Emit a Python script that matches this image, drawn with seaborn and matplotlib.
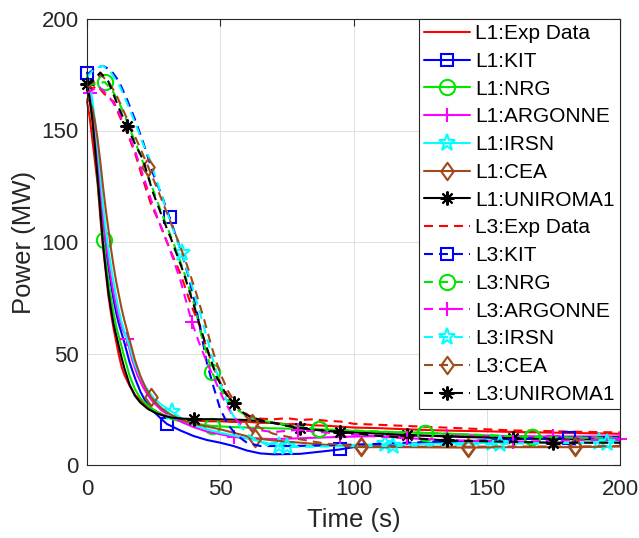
import numpy as np
import matplotlib
matplotlib.use("Agg")
import matplotlib.pyplot as plt
from matplotlib.lines import Line2D
from matplotlib.path import Path
import seaborn as sns

# ---------------- data ----------------
L1_EXP_T = [0, 1, 2, 3, 4, 5, 6, 7, 8, 9, 10, 11, 12, 13, 14, 16, 18, 20, 23, 26, 29, 32, 36, 40, 45, 50, 55, 60, 65, 70, 75, 80, 85, 90, 95, 100, 110, 120, 130, 140, 150, 160, 170, 180, 190, 200]
L1_EXP_P = [163, 156, 146, 136, 126, 111, 98, 87, 76, 68, 61, 55, 49, 44, 40.5, 35.5, 31.5, 29, 26, 24, 22.3, 21.2, 20.5, 20, 19.6, 19.6, 19.3, 19.4, 18.9, 18.9, 18.3, 18.4, 17.8, 17.6, 17.2, 16.8, 16.5, 16.0, 15.6, 15.3, 15.1, 14.8, 14.6, 14.4, 14.2, 14.0]

L1_KIT_T = [0, 1, 2, 3, 4, 5, 6, 7, 8, 9, 10, 11, 12, 13, 14, 16, 18, 20, 22, 25, 28, 30, 35, 40, 45, 50, 55, 60, 65, 70, 80, 90, 95, 100, 110, 120, 140, 160, 181, 200]
L1_KIT_P = [176, 170, 160, 149, 136, 122, 109, 98, 89, 81, 74, 68, 63, 59, 55, 46, 39, 33, 28.5, 24, 20.5, 18.4, 15.5, 13, 11.2, 10, 8.5, 6.5, 5.2, 4.8, 5, 6.3, 7, 8, 8.6, 9.5, 10.5, 11.5, 12.4, 12.6]
L1_KIT_M = [0, 30, 95]

L1_NRG_T = [0, 1, 2, 3, 4, 5, 6.2, 7, 8, 9, 10, 11, 12, 13, 14, 16, 18, 20, 23, 26, 29, 32, 36, 40, 47, 55, 65, 75, 87, 100, 110, 127, 140, 150, 167, 180, 200]
L1_NRG_P = [170, 164, 155, 142, 128, 115, 101, 92, 83, 75, 68, 62, 57.5, 53, 48.5, 40, 34, 30, 26.5, 24, 22, 20.5, 19.3, 18.6, 17.5, 17, 16.6, 16.3, 16, 15.3, 14.9, 14.4, 13.8, 13.3, 12.6, 12.4, 12.2]
L1_NRG_M = [6.2, 47, 87, 127, 167]

L1_ARG_T = [0, 1.1, 2, 3, 4, 5, 6, 7, 8, 9, 10, 11, 12, 13, 15, 17, 19, 21, 23, 25, 28, 32, 36, 40, 45, 50, 55, 60, 70, 80, 95, 110, 135, 150, 175, 200]
L1_ARG_P = [168, 167, 160, 150, 138, 124, 111, 101, 92, 84, 77, 71, 66, 62, 56.5, 47, 40, 35, 31, 28, 24.5, 21.5, 19, 17, 15, 13.8, 12.6, 12, 11.6, 12, 12.6, 13, 13.1, 13, 12.8, 12.8]
L1_ARG_M = [1.1, 15, 55, 95, 135, 175]

L1_IRSN_T = [0, 1, 2, 3, 4, 5, 6, 7, 8, 9, 10, 11, 12, 13, 14, 16, 18, 20, 22, 25, 28, 32, 36, 40, 45, 50, 60, 72, 80, 90, 100, 112, 130, 152, 170, 192, 200]
L1_IRSN_P = [175, 171, 164, 154, 142, 130, 117, 106, 97, 89, 82, 75, 69, 64, 60, 53, 45, 39.5, 35, 30, 27, 23.8, 20.5, 18, 16, 14.5, 12, 8.5, 8.4, 8.6, 9, 9.3, 9.6, 10, 10, 10.1, 10.1]
L1_IRSN_M = [32, 72, 112, 152, 192]

L1_CEA_T = [0, 1, 2, 3, 4, 5, 6, 7, 8, 9, 10, 11, 12, 13, 14, 16, 18, 20, 22, 24, 27, 30, 35, 40, 50, 63, 70, 80, 90, 103, 120, 143, 160, 183, 200]
L1_CEA_P = [164, 163, 160, 154, 146, 136, 125, 115, 106, 97, 89, 82, 76, 70, 65, 56, 47, 40, 34.5, 30.5, 26.5, 23.5, 20.5, 18.5, 16, 12, 11, 10, 9, 8, 8, 7.8, 8, 8, 8.3]
L1_CEA_M = [24, 63, 103, 143, 183]

L1_UNI_T = [0, 1, 2, 3, 4, 5, 6, 7, 8, 9, 10, 11, 12, 13, 14, 16, 18, 20, 23, 26, 29, 32, 36, 40, 50, 60, 70, 80, 90, 100, 120, 140, 160, 180, 200]
L1_UNI_P = [171, 164, 155, 142, 128, 114, 99, 88, 78, 70, 63, 58, 53, 48, 43.5, 36, 31, 28, 25, 23.2, 22, 21.2, 20.8, 20.6, 20.5, 20.2, 19, 16.5, 15.3, 14.6, 13.5, 12.6, 12, 11.6, 11.4]
L1_UNI_M = [0, 40, 80, 120, 160]

L3_EXP_T = [0, 2, 4, 6, 8.6, 10, 12, 15, 18, 21, 24, 27.4, 31, 35, 39, 42.4, 45, 47.4, 50, 52.4, 55, 57.4, 61, 65, 70, 75, 80, 85, 90, 95, 100, 110, 120, 130, 140, 150, 160, 170, 180, 190, 200]
L3_EXP_P = [170, 169, 170, 167, 164, 163, 157, 149, 140, 128, 117, 108, 97, 86, 72, 62, 52, 44, 37, 32, 27.5, 24.7, 22, 20.8, 20.5, 21, 20.2, 20.5, 19.8, 19.5, 18.5, 18, 17.5, 17, 16.5, 16, 15.5, 15.3, 15, 14.8, 14.6]

L3_KIT_T = [0, 3, 6, 9, 12, 15, 18, 21, 25, 28, 31, 35, 38, 41, 43, 45, 47.5, 50, 53, 56, 60, 65, 75, 85, 95, 110, 130, 150, 165, 181, 200]
L3_KIT_P = [175, 178, 179, 177, 172, 164, 155, 145, 130, 121, 111, 97, 85, 70, 58, 45.6, 35, 25, 18, 13.5, 10, 8.5, 8.5, 8.7, 9, 9.5, 10.5, 11, 11.8, 12.3, 12.5]
L3_KIT_M = [31, 181]

L3_NRG_T = [0, 3, 6.7, 10, 13, 16, 20, 24, 28, 32, 36, 40, 43, 46.8, 50, 53, 56, 60, 65, 70, 78, 87, 100, 110, 127, 145, 167, 185, 200]
L3_NRG_P = [170, 171, 171.7, 167, 160, 151, 139, 126, 113, 101, 88, 73, 58, 41.8, 34, 29, 25, 22, 20, 19, 17.5, 16, 15.5, 15, 14.4, 13.6, 12.6, 12.2, 12]
L3_NRG_M = [6.7, 46.8, 87, 127, 167]

L3_ARG_T = [0, 2, 4, 6, 9, 12, 15, 18, 21, 24, 27, 31, 35, 39.3, 42, 45, 48, 51, 54, 57, 62, 70, 79, 90, 100, 110, 120, 140, 160, 180, 200]
L3_ARG_P = [167, 168, 170, 168, 164, 158, 150, 141, 130, 119, 109, 97, 83, 64.3, 55, 46, 38, 30, 23.5, 18.8, 16, 14.8, 15.7, 14.5, 13.6, 12.7, 12, 11, 10.4, 11, 11.5]
L3_ARG_M = [39.3, 79, 120, 160, 200]

L3_IRSN_T = [0, 3, 6, 9, 12.4, 15.5, 18.6, 21, 23.6, 27.4, 31, 35.5, 39, 42, 45, 48, 51, 54, 57, 61, 67.4, 75, 90, 100, 115, 135, 155, 175, 195, 200]
L3_IRSN_P = [174, 178, 179, 176, 169.6, 161, 151.7, 144, 137, 123, 110, 95, 82, 70, 57, 44, 33, 24, 18, 13, 9, 8, 8.3, 8.5, 8.5, 9, 9.5, 9.8, 10, 10]
L3_IRSN_M = [35.5, 75, 115, 155, 195]

L3_CEA_T = [0, 3, 5, 8, 11, 14, 17, 20, 23, 26, 29, 32, 35, 38, 41, 44, 47, 50, 53, 56, 59, 62, 66, 70, 80, 90, 103, 120, 143, 160, 183, 200]
L3_CEA_P = [170, 172, 175, 172, 166, 158, 150, 142, 133.6, 125, 116, 107, 98, 88, 77, 65, 52, 41, 33, 27, 22.5, 18.8, 16, 14, 11.5, 9.5, 8.5, 8.2, 8.2, 8.3, 8.3, 8.5]
L3_CEA_M = [23, 62, 103, 143, 183]

L3_UNI_T = [0, 2, 5, 8, 12, 15, 18, 21, 24.8, 28, 32, 36, 40, 44, 48.6, 52, 55, 58, 61, 67.4, 75, 85, 95, 110, 125, 135, 155, 175, 200]
L3_UNI_P = [170, 172, 176, 172, 160, 152, 144, 137, 122, 112, 100, 87, 72, 56, 39.6, 32, 27.7, 24, 21.7, 19.4, 17.5, 15.8, 14.8, 13, 11.8, 11, 10.5, 10, 10]
L3_UNI_M = [15, 55, 95, 135, 175]

LABELS = ["L1:Exp Data", "L1:KIT", "L1:NRG", "L1:ARGONNE", "L1:IRSN", "L1:CEA", "L1:UNIROMA1",
          "L3:Exp Data", "L3:KIT", "L3:NRG", "L3:ARGONNE", "L3:IRSN", "L3:CEA", "L3:UNIROMA1"]

# ---------------- styling ----------------
sns.set_style("white")
plt.rcParams["font.family"] = ["Liberation Sans", "DejaVu Sans"]

BROWN = "#9E4A1C"
COLORS = ["#FF0000", "#0000FF", "#00E600", "#FF00FF", "#00FFFF", BROWN, "#000000"]

diamond = Path([(0, 1), (0.72, 0), (0, -1), (-0.72, 0), (0, 1)],
               [Path.MOVETO, Path.LINETO, Path.LINETO, Path.LINETO, Path.CLOSEPOLY])
MARKERS = [None, "s", "o", "+", "*", diamond, (8, 2, 0)]
MSIZES = [0, 8.5, 11, 10.5, 12.5, 12.5, 10]

L1 = [(L1_EXP_T, L1_EXP_P, []), (L1_KIT_T, L1_KIT_P, L1_KIT_M), (L1_NRG_T, L1_NRG_P, L1_NRG_M),
      (L1_ARG_T, L1_ARG_P, L1_ARG_M), (L1_IRSN_T, L1_IRSN_P, L1_IRSN_M),
      (L1_CEA_T, L1_CEA_P, L1_CEA_M), (L1_UNI_T, L1_UNI_P, L1_UNI_M)]
L3 = [(L3_EXP_T, L3_EXP_P, []), (L3_KIT_T, L3_KIT_P, L3_KIT_M), (L3_NRG_T, L3_NRG_P, L3_NRG_M),
      (L3_ARG_T, L3_ARG_P, L3_ARG_M), (L3_IRSN_T, L3_IRSN_P, L3_IRSN_M),
      (L3_CEA_T, L3_CEA_P, L3_CEA_M), (L3_UNI_T, L3_UNI_P, L3_UNI_M)]

SOLID = "-"
DASHED = (0, (4.3, 2.9))

fig = plt.figure(figsize=(6.39, 5.38), dpi=100)
ax = fig.add_axes([87 / 639, 1 - 465 / 538, (620 - 87) / 639, (465 - 19) / 538])

handles = []
for group, ls in ((L1, SOLID), (L3, DASHED)):
    for i, (t, p, marks) in enumerate(group):
        assert len(t) == len(p), (i, len(t), len(p))
        c = COLORS[i]
        m = MARKERS[i]
        idx = [t.index(v) for v in marks]
        kw = dict(color=c, linestyle=ls, linewidth=1.5)
        if m is not None:
            kw.update(marker=m, markevery=idx, markersize=MSIZES[i],
                      markerfacecolor="none", markeredgecolor=c, markeredgewidth=1.5)
        sns.lineplot(x=np.array(t, float), y=np.array(p, float), ax=ax, estimator=None,
                     sort=False, legend=False, clip_on=False, **kw)
        hk = dict(color=c, linestyle=ls, linewidth=1.5)
        if m is not None:
            hk.update(marker=m, markersize=MSIZES[i], markerfacecolor="none",
                      markeredgecolor=c, markeredgewidth=1.5)
        handles.append(Line2D([], [], **hk))

ax.set_xlim(0, 200)
ax.set_ylim(0, 200)
ax.set_xticks([0, 50, 100, 150, 200])
ax.set_yticks([0, 50, 100, 150, 200])
ax.grid(True, color="#e0e0e0", linewidth=0.7)
ax.set_axisbelow(True)
for s in ax.spines.values():
    s.set_color("#262626")
    s.set_linewidth(0.8)
ax.tick_params(direction="in", length=5, width=0.8, top=True, right=True,
               colors="#262626", labelsize=16)
ax.tick_params(axis="x", pad=10)
ax.tick_params(axis="y", pad=6)
ax.set_xlabel("Time (s)", fontsize=18.5, color="#262626", labelpad=6)
ax.set_ylabel("Power (MW)", fontsize=18.5, color="#262626", labelpad=4)

leg = ax.legend(handles, LABELS, loc="upper right", bbox_to_anchor=(1, 1), borderaxespad=0,
                fontsize=15, frameon=True, fancybox=False, edgecolor="#262626",
                framealpha=1, handlelength=2.2, handletextpad=0.25, labelspacing=0.42,
                borderpad=0.25, numpoints=1)
leg.get_frame().set_linewidth(0.8)
for txt in leg.get_texts():
    txt.set_color("#000000")

fig.savefig("out.png", dpi=100)
